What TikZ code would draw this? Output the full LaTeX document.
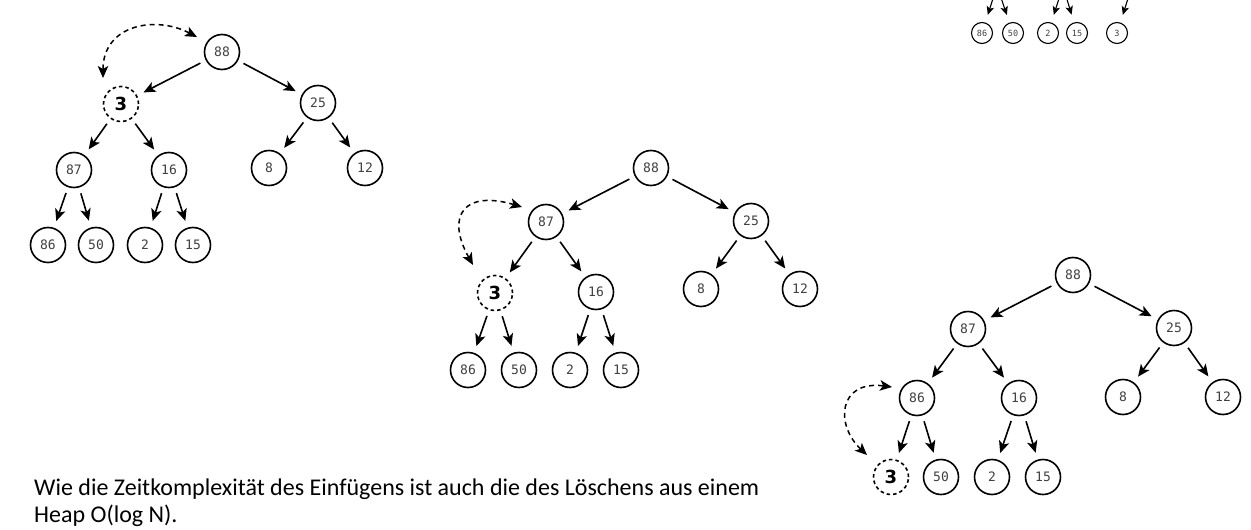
\documentclass[tikz,border=0pt]{standalone}
\usepackage{fontspec}
\setmainfont{Carlito}
\newfontfamily\zahlfont{DejaVu Sans Mono}
\newfontfamily\neufont{DejaVu Sans}
\usetikzlibrary{arrows.meta}
\begin{document}
\begin{tikzpicture}[x=1pt,y=-1pt,>={Stealth[length=12pt,width=10.5pt,inset=3pt]},
  knoten/.style={circle,draw,line width=1.6pt,minimum size=35pt,inner sep=0pt,
    font=\zahlfont\fontsize{13}{13}\selectfont,text=black!75},
  neu/.style={knoten,dash pattern=on 3.5pt off 3pt,text=black,
    font=\neufont\bfseries\fontsize{18}{18}\selectfont},
  kante/.style={->,line width=1.6pt,shorten <=6pt,shorten >=7pt},
  tausch/.style={<->,line width=1.5pt,dash pattern=on 5pt off 4pt},
  klein/.style={knoten,minimum size=21pt,line width=1.1pt,
    font=\zahlfont\fontsize{8.5}{8.5}\selectfont},
  kleinkante/.style={-{Stealth[length=8.5pt,width=7.5pt,inset=2pt]},line width=1.1pt,shorten >=8pt}]
\clip (0,0) rectangle (1251,530);
% erster Baum: 3 an der Wurzel
\foreach \n/\x/\y in {88/222/52,25/318/103,87/74/170,16/169/170,8/269/168,12/365/168,
  86/48/245,50/96/245,2/145/245,15/193/245}
  \node[knoten] (a\n) at (\x,\y) {\n};
\node[neu] (a3) at (121,104) {3};
\foreach \v/\w in {a88/a3,a88/a25,a3/a87,a3/a16,a25/a8,a25/a12,a87/a86,a87/a50,a16/a2,a16/a15}
  \draw[kante] (\v) -- (\w);
\draw[tausch] ([shift={(-18,-26)}]a3.center) .. controls +(0,-53) and +(-42,-22) .. ([shift={(-25,-15)}]a88.center);
% zweiter Baum
\foreach \n/\x/\y in {88/651/168,87/546/222,25/751/221,16/596/292,8/701/289,12/800/289,
  86/468/370,50/519/370,2/570/370,15/621/370}
  \node[knoten] (b\n) at (\x,\y) {\n};
\node[neu] (b3) at (495,293) {3};
\foreach \v/\w in {b88/b87,b88/b25,b87/b3,b87/b16,b25/b8,b25/b12,b3/b86,b3/b50,b16/b2,b16/b15}
  \draw[kante] (\v) -- (\w);
\draw[tausch] ([shift={(-22,-28)}]b3.center) .. controls +(-28,-50) and +(-57,-17) .. ([shift={(-24,-15)}]b87.center);
% dritter Baum
\foreach \n/\x/\y in {88/1073/275,87/968/329,25/1174/328,86/917/398,16/1019/398,8/1123/397,
  12/1223/397,50/941/477,2/992/477,15/1043/477}
  \node[knoten] (c\n) at (\x,\y) {\n};
\node[neu] (c3) at (891,477) {3};
\foreach \v/\w in {c88/c87,c88/c25,c87/c86,c87/c16,c25/c8,c25/c12,c86/c3,c86/c50,c16/c2,c16/c15}
  \draw[kante] (\v) -- (\w);
\draw[tausch] ([shift={(-24,-22)}]c3.center) .. controls +(-32,-30) and +(-54,-7) .. ([shift={(-25,-11)}]c86.center);
% Rest oben rechts
\coordinate (dl) at (997,-14);
\coordinate (dm) at (1063,-14);
\coordinate (dr) at (1132,-14);
\foreach \n/\x in {86/982,50/1013,2/1048,15/1077,3/1117}
  \node[klein] (d\n) at (\x,33) {\n};
\foreach \v/\w in {dl/d86,dl/d50,dm/d2,dm/d15,dr/d3}
  \draw[kleinkante] (\v) -- (\w);
% Text
\node[anchor=north west,align=left,inner sep=0pt,font=\fontsize{24}{26.7}\selectfont] (txt) at (34,479)
  {Wie die Zeitkomplexität des Einfügens ist auch die des Löschens aus einem\\Heap O(log N).};
\end{tikzpicture}
\end{document}
